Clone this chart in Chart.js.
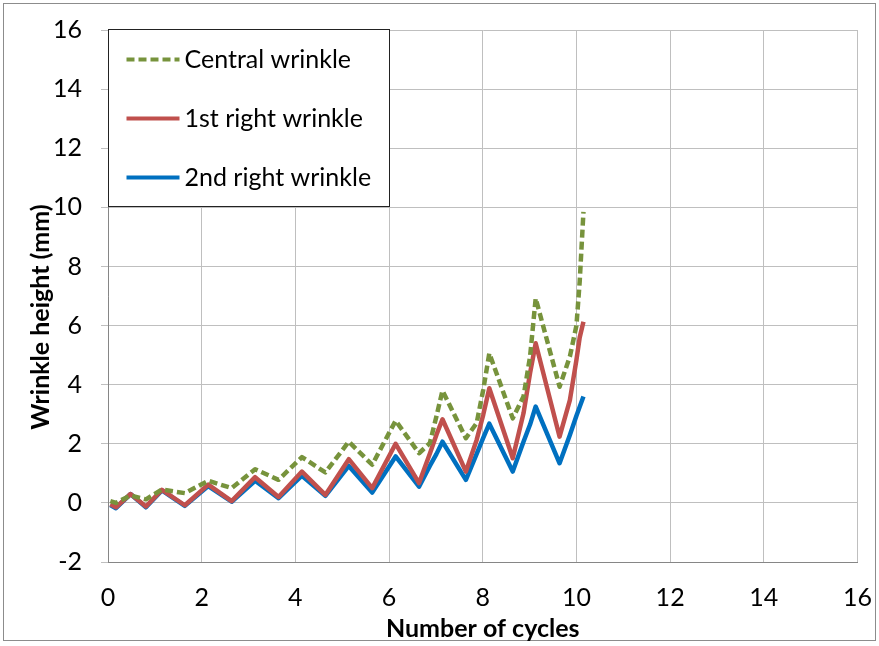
<!DOCTYPE html>
<html>
<head>
<meta charset="utf-8">
<script src="https://cdn.jsdelivr.net/npm/chart.js@4.4.0/dist/chart.umd.min.js"></script>
<style>
  html, body { margin: 0; padding: 0; background: #fff; }
  #wrap { width: 879px; height: 646px; position: relative; }
</style>
</head>
<body>
<div id="wrap"><canvas id="chart"></canvas></div>
<script>
// values: peaks / troughs of every cycle, plus a few points on the steep rises
const cycles = [0.05, 0.17, 0.48, 0.81, 1.15, 1.64, 2.14, 2.64, 3.14, 3.64, 4.14, 4.64, 5.14, 5.64,
    6.14, 6.64, 6.87, 7.01, 7.14, 7.64, 7.87, 8.01, 8.14, 8.64, 8.87, 9.01, 9.13, 9.64, 9.86, 10.0, 10.07, 10.15];
const centralWrinkle = [0.06, 0.0, 0.25, 0.12, 0.45, 0.33, 0.75, 0.50, 1.14, 0.78, 1.55, 1.03, 2.07, 1.29,
    2.78, 1.68, 2.02, 2.92, 3.80, 2.19, 2.70, 3.82, 5.06, 2.86, 3.60, 4.95, 6.92, 3.93, 4.95, 6.0, 7.5, 9.85];
const firstRightWrinkle = [-0.05, -0.15, 0.30, -0.12, 0.44, -0.08, 0.62, 0.06, 0.87, 0.20, 1.06, 0.27, 1.48, 0.50,
    2.00, 0.67, 1.66, 2.30, 2.83, 1.06, 2.13, 2.98, 3.88, 1.51, 3.03, 4.39, 5.40, 2.24, 3.48, 4.84, 5.6, 6.13];
const secondRightWrinkle = [-0.07, -0.18, 0.30, -0.15, 0.42, -0.10, 0.57, 0.04, 0.75, 0.16, 0.92, 0.24, 1.25, 0.35,
    1.57, 0.55, 1.25, 1.65, 2.07, 0.78, 1.66, 2.20, 2.68, 1.06, 2.07, 2.65, 3.26, 1.34, 2.30, 2.95, 3.25, 3.60];
const seriesLabels = ['Central wrinkle', '1st right wrinkle', '2nd right wrinkle'];
const yTitle = 'Wrinkle height (mm)';

const toPoints = (ys) => cycles.map((x, i) => ({ x: x, y: ys[i] }));

const font = 'Lato, "Noto Sans", sans-serif';

// Excel style frame around the whole chart
const framePlugin = {
    id: 'frame',
    beforeDraw: (chart) => {
        const ctx = chart.ctx;
        ctx.save();
        ctx.fillStyle = '#fff';
        ctx.fillRect(0, 0, chart.width, chart.height);
        ctx.strokeStyle = '#8c8c8c';
        ctx.lineWidth = 1;
        ctx.strokeRect(3.5, 3.5, 872, 637);
        ctx.restore();
    }
};

// legend box in the top-left corner of the plot + the vertical axis title
const boxLegendPlugin = {
    id: 'boxLegend',
    afterDraw: (chart) => {
        const ctx = chart.ctx;
        const area = chart.chartArea;
        const left = area.left + 0.5, top = area.top - 0.5;
        ctx.save();
        ctx.fillStyle = '#fff';
        ctx.fillRect(left, top, 281, 177);
        ctx.strokeStyle = '#222';
        ctx.lineWidth = 1;
        ctx.strokeRect(left, top, 281, 177);
        chart.data.datasets.forEach((ds, i) => {
            const y = top + 30 + i * 59;
            ctx.beginPath();
            ctx.setLineDash(ds.borderDash || []);
            ctx.strokeStyle = ds.borderColor;
            ctx.lineWidth = 4;
            ctx.moveTo(left + 18, y);
            ctx.lineTo(left + 71, y);
            ctx.stroke();
            ctx.setLineDash([]);
            ctx.fillStyle = '#000';
            ctx.font = '25px ' + font;
            ctx.textBaseline = 'middle';
            ctx.fillText(ds.label, left + 76, y);
        });

        // y title sits a bit below the middle of the plot, as in the original
        ctx.translate(41, 317);
        ctx.rotate(-Math.PI / 2);
        ctx.font = 'bold 25px ' + font;
        ctx.textAlign = 'center';
        ctx.textBaseline = 'middle';
        ctx.fillText(yTitle, 0, 0);
        ctx.restore();
    }
};

new Chart(document.getElementById('chart'), {
    type: 'line',
    data: {
        datasets: [{
            label: seriesLabels[0],
            data: toPoints(centralWrinkle),
            borderColor: '#77933C',
            borderWidth: 4.5,
            borderDash: [8, 4],
            borderJoinStyle: 'round',
            pointRadius: 0,
            tension: 0,
        }, {
            label: seriesLabels[1],
            data: toPoints(firstRightWrinkle),
            borderColor: '#C0504D',
            borderWidth: 4.5,
            borderJoinStyle: 'round',
            pointRadius: 0,
            tension: 0,
        }, {
            label: seriesLabels[2],
            data: toPoints(secondRightWrinkle),
            borderColor: '#0070C0',
            borderWidth: 4.5,
            borderJoinStyle: 'round',
            pointRadius: 0,
            tension: 0,
        }]
    },
    options: {
        responsive: true,
        maintainAspectRatio: false,
        animation: false,
        layout: { padding: { top: 30, right: 21.5, left: 0, bottom: 0 } },
        plugins: {
            legend: { display: false },
            tooltip: { enabled: false },
        },
        scales: {
            x: {
                type: 'linear',
                min: 0,
                max: 16,
                ticks: { stepSize: 2, color: '#000', padding: 21, font: { family: font, size: 25 } },
                grid: { color: '#bfbfbf', drawTicks: false },
                border: { color: '#868686' },
                title: {
                    display: true,
                    text: 'Number of cycles',
                    color: '#000',
                    font: { family: font, size: 25, weight: 'bold' },
                    padding: { top: 0, bottom: 2 },
                },
                afterFit: (scale) => {
                    scale.height = 84;
                    scale.paddingLeft = 0;
                    scale.paddingRight = 0;
                },
            },
            y: {
                min: -2,
                max: 16,
                ticks: { stepSize: 2, color: '#000', padding: 19, font: { family: font, size: 25 } },
                grid: { color: '#bfbfbf', tickLength: 7 },
                border: { color: '#868686' },
                afterFit: (scale) => {
                    scale.width = 108;
                    scale.paddingTop = 0;
                    scale.paddingBottom = 0;
                },
            }
        }
    },
    plugins: [framePlugin, boxLegendPlugin],
});
</script>
</body>
</html>
